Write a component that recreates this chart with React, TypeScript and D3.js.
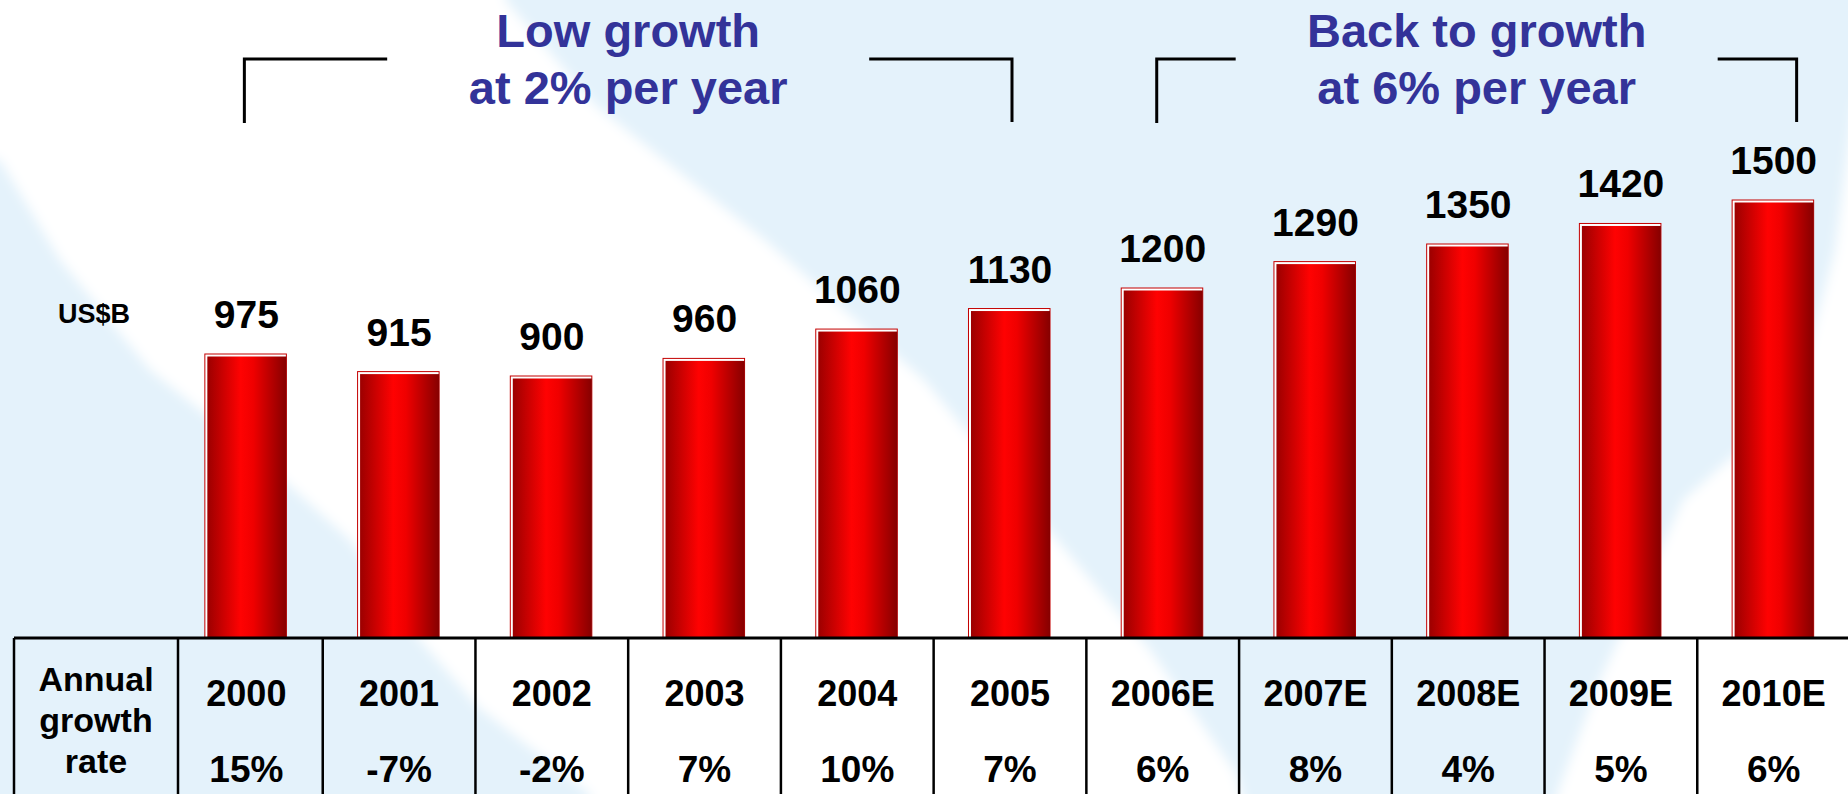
import React, { useEffect, useRef } from 'react';
import * as d3 from 'd3';

// chart data
const years = ['2000', '2001', '2002', '2003', '2004', '2005', '2006E', '2007E', '2008E', '2009E', '2010E'];
const marketSize = [975, 915, 900, 960, 1060, 1130, 1200, 1290, 1350, 1420, 1500];
const growthRates = ['15%', '-7%', '-2%', '7%', '10%', '7%', '6%', '8%', '4%', '5%', '6%'];
const rowHeader = ['Annual', 'growth', 'rate'];
const unitLabel = 'US$B';
const phaseLabels = [
  ['Low growth', 'at 2% per year'],
  ['Back to growth', 'at 6% per year'],
];
const phaseRanges = [
  ['2000', '2005'],
  ['2006E', '2010E'],
];

const WIDTH = 1848;
const HEIGHT = 794;
const FONT = '"Liberation Sans", Arial, Helvetica, sans-serif';

export default function App() {
  const svgRef = useRef<SVGSVGElement>(null);

  useEffect(() => {
    if (!svgRef.current) return;
    const svg = d3.select(svgRef.current);
    svg.selectAll('*').remove();

    const tableTop = 638;
    const tableLeft = 14;
    const headerRight = 178;

    const x = d3
      .scaleBand<string>()
      .domain(years)
      .range([170, 1850])
      .paddingInner(0.476)
      .paddingOuter(0.238);
    const bw = x.bandwidth();
    const gap = x.step() - bw;

    const y = d3.scaleLinear().domain([0, 1500]).range([640, 200]);

    const defs = svg.append('defs');
    const grad = defs
      .append('linearGradient')
      .attr('id', 'barGrad')
      .attr('x1', '0%')
      .attr('x2', '100%')
      .attr('y1', '0%')
      .attr('y2', '0%');
    grad.append('stop').attr('offset', '0%').attr('stop-color', '#9c0000');
    grad.append('stop').attr('offset', '42%').attr('stop-color', '#ff0202');
    grad.append('stop').attr('offset', '58%').attr('stop-color', '#f00000');
    grad.append('stop').attr('offset', '100%').attr('stop-color', '#860000');

    defs
      .append('filter')
      .attr('id', 'soft')
      .attr('x', '-10%')
      .attr('y', '-10%')
      .attr('width', '120%')
      .attr('height', '120%')
      .append('feGaussianBlur')
      .attr('stdDeviation', 6);

    // background: pale blue with white swooshes
    svg.append('rect').attr('width', WIDTH).attr('height', HEIGHT).attr('fill', '#e4f2fb');

    const swooshLeft: [number, number][] = [
      [-40, -40], [505, -40], [505, 0], [595, 105], [766, 241], [924, 380], [1057, 540],
      [1150, 650], [1236, 773], [1252, 830], [590, 830], [590, 794], [478, 707], [420, 640],
      [350, 540], [250, 450], [150, 370], [60, 260], [0, 160], [-40, 150],
    ];
    const swooshRight: [number, number][] = [
      [1880, 90], [1855, 100], [1835, 250], [1800, 380], [1740, 450], [1683, 500],
      [1600, 680], [1557, 794], [1550, 830], [1880, 830],
    ];
    const poly = d3.line().curve(d3.curveLinearClosed);
    [swooshLeft, swooshRight].forEach((pts) => {
      svg
        .append('path')
        .attr('d', poly(pts))
        .attr('fill', '#ffffff')
        .attr('filter', 'url(#soft)');
    });

    // bars
    const bars = svg.append('g');
    years.forEach((yr, i) => {
      const bx = x(yr) as number;
      const top = y(marketSize[i]);
      bars
        .append('rect')
        .attr('x', bx - 1.5)
        .attr('y', top)
        .attr('width', bw + 1.5)
        .attr('height', tableTop - top)
        .attr('fill', '#ffffff')
        .attr('stroke', '#c40000')
        .attr('stroke-width', 1);
      bars
        .append('rect')
        .attr('x', bx + 1)
        .attr('y', top + 2.5)
        .attr('width', bw - 1)
        .attr('height', tableTop - top - 2.5)
        .attr('fill', 'url(#barGrad)');
      bars
        .append('text')
        .attr('x', bx + bw / 2)
        .attr('y', top - 26)
        .attr('text-anchor', 'middle')
        .attr('font-family', FONT)
        .attr('font-weight', 'bold')
        .attr('font-size', 39)
        .attr('fill', '#000')
        .text(marketSize[i]);
    });

    svg
      .append('text')
      .attr('x', 94)
      .attr('y', 323)
      .attr('text-anchor', 'middle')
      .attr('font-family', FONT)
      .attr('font-weight', 'bold')
      .attr('font-size', 27)
      .attr('fill', '#000')
      .text(unitLabel);

    // phase brackets and headings
    const nudges = [[-2, 2], [-6, 23]];
    const halfGap = 241;
    phaseRanges.forEach(([from, to], p) => {
      const left = (x(from) as number) + bw / 2 + nudges[p][0];
      const right = (x(to) as number) + bw / 2 + nudges[p][1];
      const mid = (left + right) / 2;
      const g = svg.append('g');
      g.append('path')
        .attr('d', `M${left},123V59H${mid - halfGap}`)
        .attr('fill', 'none')
        .attr('stroke', '#000')
        .attr('stroke-width', 3);
      g.append('path')
        .attr('d', `M${mid + halfGap},59H${right}V122`)
        .attr('fill', 'none')
        .attr('stroke', '#000')
        .attr('stroke-width', 3);
      phaseLabels[p].forEach((line, k) => {
        g.append('text')
          .attr('x', mid)
          .attr('y', 47 + k * 57)
          .attr('text-anchor', 'middle')
          .attr('font-family', FONT)
          .attr('font-weight', 'bold')
          .attr('font-size', 47)
          .attr('fill', '#333399')
          .text(line);
      });
    });

    // table
    const table = svg.append('g');
    table
      .append('line')
      .attr('x1', tableLeft)
      .attr('x2', WIDTH)
      .attr('y1', tableTop)
      .attr('y2', tableTop)
      .attr('stroke', '#000')
      .attr('stroke-width', 3);
    const colLines = [tableLeft, headerRight, ...years.slice(1).map((yr) => (x(yr) as number) - gap / 2)];
    colLines.forEach((lx) => {
      table
        .append('line')
        .attr('x1', lx)
        .attr('x2', lx)
        .attr('y1', tableTop)
        .attr('y2', HEIGHT + 5)
        .attr('stroke', '#000')
        .attr('stroke-width', 2.5);
    });
    rowHeader.forEach((t, k) => {
      table
        .append('text')
        .attr('x', (tableLeft + headerRight) / 2)
        .attr('y', 691 + k * 41)
        .attr('text-anchor', 'middle')
        .attr('font-family', FONT)
        .attr('font-weight', 'bold')
        .attr('font-size', 34)
        .attr('fill', '#000')
        .text(t);
    });
    years.forEach((yr, i) => {
      const cx = (x(yr) as number) + bw / 2;
      table
        .append('text')
        .attr('x', cx)
        .attr('y', 706)
        .attr('text-anchor', 'middle')
        .attr('font-family', FONT)
        .attr('font-weight', 'bold')
        .attr('font-size', 36)
        .attr('fill', '#000')
        .text(yr);
      table
        .append('text')
        .attr('x', cx)
        .attr('y', 782)
        .attr('text-anchor', 'middle')
        .attr('font-family', FONT)
        .attr('font-weight', 'bold')
        .attr('font-size', 37)
        .attr('fill', '#000')
        .text(growthRates[i]);
    });
  }, []);

  return (
    <svg
      ref={svgRef}
      width={WIDTH}
      height={HEIGHT}
      style={{ position: 'absolute', left: 0, top: 0, display: 'block' }}
      role="img"
      aria-label="Market size in US$B, 2000-2010E"
    />
  );
}
